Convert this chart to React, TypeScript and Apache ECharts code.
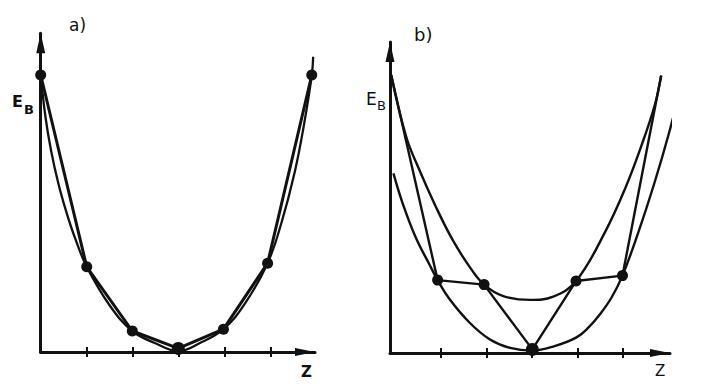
import React, { useEffect, useRef } from "react";
import * as echarts from "echarts";

// ---- Panel a) : sampled points and the true curve ----
const aDotZ = [0, 1.0, 1.99, 2.99, 3.97, 4.93, 5.89];
const aDotE = [9.23, 2.84, 0.7, 0.12, 0.76, 2.96, 9.23];
const aDotSize = [11, 11, 11, 13, 11, 11, 11];
const aCurveZ = [0, 0.103, 0.223, 0.381, 0.56, 0.733, 1.0, 1.5, 1.99, 2.48, 2.99, 3.46, 3.97, 4.44, 4.93, 5.23, 5.52, 5.72, 5.89, 5.92];
const aCurveE = [9.23, 7.84, 6.73, 5.63, 4.65, 3.85, 2.84, 1.55, 0.7, 0.3, 0.03, 0.3, 0.76, 1.62, 2.96, 4.3, 6.0, 7.57, 9.23, 9.84];

// ---- Panel b) : polyline, upper curve, lower curve ----
const bDotZ = [-0.09, 0.93, 1.95, 3.01, 3.97, 4.99, 5.84];
const bDotE = [9.27, 2.43, 2.28, 0.12, 2.4, 2.58, 9.25];
const bDotSize = [0, 11, 11, 13, 11, 11, 0];
const bUpperZ = [-0.09, 0.24, 0.53, 0.89, 1.26, 1.63, 1.95, 2.37, 2.96, 3.47, 3.97, 4.61, 5.05, 5.41, 5.7, 5.84];
const bUpperE = [9.27, 7.21, 6.1, 4.88, 3.77, 2.88, 2.28, 1.9, 1.77, 1.88, 2.4, 4.04, 5.49, 6.93, 8.27, 9.25];
const bLowerZ = [-0.04, 0.16, 0.45, 0.75, 0.93, 1.19, 1.64, 2.08, 2.52, 3.01, 3.5, 3.98, 4.25, 4.5, 4.75, 4.99, 5.34, 5.7, 6.0, 6.22, 6.31];
const bLowerE = [5.99, 5.0, 3.85, 2.95, 2.43, 1.8, 1.0, 0.45, 0.17, 0.08, 0.23, 0.52, 0.86, 1.3, 1.85, 2.58, 4.03, 5.71, 7.27, 8.6, 9.43];

const tickValues = [1, 2, 3, 4, 5];
const panelLabels = ["a)", "b)"];
const yName = ["E", "B"];
const xName = "Z";

const INK = "#111";

function pairs(zs: number[], es: number[]) {
  return zs.map((z, i) => [z, es[i]]);
}

function makeXAxes(gridIndex: number, min: number, max: number, axisW: number) {
  const base = {
    type: "value",
    gridIndex,
    min,
    max,
    position: "bottom",
    offset: 0,
    splitLine: { show: false },
    axisLabel: { show: false },
  };
  return [
    {
      ...base,
      axisLine: {
        show: true,
        onZero: false,
        symbol: ["none", "triangle"],
        symbolSize: [8, 20],
        symbolOffset: [0, -10],
        lineStyle: { color: INK, width: axisW },
      },
      axisTick: { show: true, inside: false, length: 5, customValues: tickValues, lineStyle: { color: INK, width: 2 } },
    },
    {
      ...base,
      axisLine: { show: false, onZero: false },
      axisTick: { show: true, inside: true, length: 5, customValues: tickValues, lineStyle: { color: INK, width: 2 } },
    },
  ];
}

function makeYAxis(gridIndex: number, max: number, axisW: number) {
  return {
    type: "value",
    gridIndex,
    min: 0,
    max,
    splitLine: { show: false },
    axisLabel: { show: false },
    axisTick: { show: false },
    axisLine: {
      show: true,
      onZero: false,
      symbol: ["none", "triangle"],
      symbolSize: [9, 20],
      symbolOffset: [0, -10],
      lineStyle: { color: INK, width: axisW },
    },
  };
}

export default function App() {
  const ref = useRef<HTMLDivElement>(null);
  useEffect(() => {
    if (!ref.current) return;
    const chart = echarts.init(ref.current, undefined, { renderer: "svg" });

    const txt = (text: string, x: number, y: number, size: number, weight: string) => ({
      type: "text",
      x,
      y,
      style: {
        text,
        fill: INK,
        font: `${weight} ${size}px "DejaVu Sans", sans-serif`,
        align: "left",
        verticalAlign: "top",
      },
    });

    chart.setOption({
      animation: false,
      backgroundColor: "#ffffff",
      grid: [
        { left: 40.7, top: 33.3, width: 274.3, height: 318.7, outerBoundsMode: "none", containLabel: false },
        { left: 390, top: 42, width: 280, height: 311, outerBoundsMode: "none", containLabel: false },
      ],
      xAxis: [...makeXAxes(0, 0, 5.96, 3), ...makeXAxes(1, -0.116, 6.034, 3)],
      yAxis: [makeYAxis(0, 10.62, 3), makeYAxis(1, 10.37, 3)],
      series: [
        {
          type: "line",
          xAxisIndex: 0,
          yAxisIndex: 0,
          data: pairs(aCurveZ, aCurveE),
          smooth: 0.4,
          showSymbol: false,
          clip: false,
          lineStyle: { color: INK, width: 2.3 },
          z: 2,
        },
        {
          type: "line",
          xAxisIndex: 0,
          yAxisIndex: 0,
          data: aDotZ.map((z, i) => ({ value: [z, aDotE[i]], symbolSize: aDotSize[i] })),
          symbol: "circle",
          showSymbol: true,
          clip: false,
          lineStyle: { color: INK, width: 3 },
          itemStyle: { color: INK },
          z: 3,
        },
        {
          type: "line",
          xAxisIndex: 2,
          yAxisIndex: 1,
          data: pairs(bUpperZ, bUpperE),
          smooth: 0.4,
          showSymbol: false,
          clip: false,
          lineStyle: { color: INK, width: 2.4 },
          z: 2,
        },
        {
          type: "line",
          xAxisIndex: 2,
          yAxisIndex: 1,
          data: pairs(bLowerZ, bLowerE),
          smooth: 0.4,
          showSymbol: false,
          clip: false,
          lineStyle: { color: INK, width: 2.4 },
          z: 2,
        },
        {
          type: "line",
          xAxisIndex: 2,
          yAxisIndex: 1,
          data: bDotZ.map((z, i) => ({
            value: [z, bDotE[i]],
            symbolSize: bDotSize[i],
            symbol: bDotSize[i] > 0 ? "circle" : "none",
          })),
          symbol: "circle",
          showSymbol: true,
          clip: false,
          lineStyle: { color: INK, width: 2.4 },
          itemStyle: { color: INK },
          z: 3,
        },
      ],
      graphic: [
        txt(panelLabels[0], 69, 16, 17, "normal"),
        txt(panelLabels[1], 414, 25, 18, "normal"),
        txt(yName[0], 12, 93, 16, "bold"),
        txt(yName[1], 24, 103, 13, "bold"),
        txt(yName[0], 366, 90, 17, "normal"),
        txt(yName[1], 377, 99, 13, "normal"),
        txt(xName, 301, 364, 15, "bold"),
        txt(xName, 655, 363, 15, "normal"),
      ],
    });
    return () => chart.dispose();
  }, []);
  return (
    <div
      ref={ref}
      style={{ position: "fixed", left: 0, top: 0, width: 719, height: 386, background: "#fff" }}
    />
  );
}
